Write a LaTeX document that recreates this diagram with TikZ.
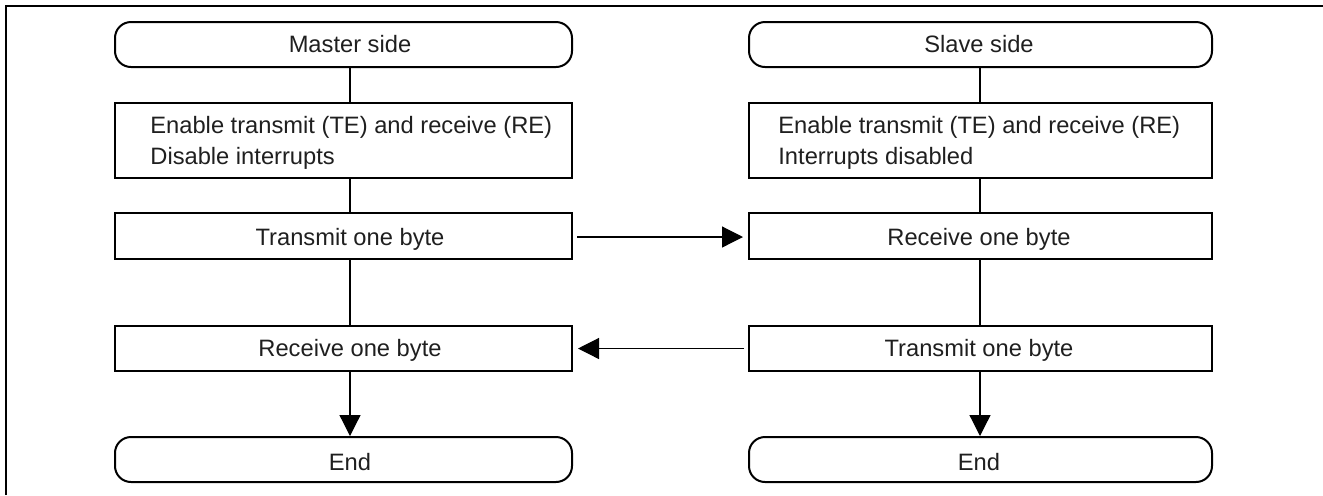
\documentclass[tikz,border=0pt]{standalone}
\usepackage{fontspec}
\setmainfont{Liberation Sans}
\usetikzlibrary{arrows.meta,calc}
\begin{document}
\begin{tikzpicture}[x=0.5pt,y=-0.5pt,
 term/.style={draw,line width=1pt,rounded corners=8pt,minimum height=22.5pt,inner sep=0pt},
 procbox/.style={draw,line width=1pt,inner sep=0pt},
 mcol/.style={minimum width=228.5pt},
 scol/.style={minimum width=231.5pt},
 lbl/.style={inner sep=0pt,font=\fontsize{11.85}{15.5}\selectfont,text=black!88},
 conn/.style={line width=0.6pt},
 arr/.style={conn,-{Triangle[length=10.5pt,width=10.5pt]}}]
\useasboundingbox (0,0) rectangle (1323,495);
\draw[line width=1.2pt] (6,495) -- (6,6) -- (1323,6);
% master column
\node[term,mcol] (m0) at (343.5,44.5) {};
\node[procbox,mcol,minimum height=37.5pt] (m1) at (343.5,140.5) {};
\node[procbox,mcol,minimum height=23pt] (m2) at (343.5,236) {};
\node[procbox,mcol,minimum height=22.5pt] (m3) at (343.5,348.5) {};
\node[term,mcol] (m4) at (343.5,459.5) {};
% slave column
\node[term,scol] (s0) at (980.5,44.5) {};
\node[procbox,scol,minimum height=37.5pt] (s1) at (980.5,140.5) {};
\node[procbox,scol,minimum height=23pt] (s2) at (980.5,236) {};
\node[procbox,scol,minimum height=22.5pt] (s3) at (980.5,348.5) {};
\node[term,scol] (s4) at (980.5,459.5) {};
% texts
\node[lbl,anchor=base] (tm0) at (350,52) {Master side};
\node[lbl,anchor=base west,align=left] (tm1) at (150,164) {Enable transmit (TE) and receive (RE)\\Disable interrupts};
\node[lbl,anchor=base] (tm2) at (350,245.5) {Transmit one byte};
\node[lbl,anchor=base] (tm3) at (350,356.5) {Receive one byte};
\node[lbl,anchor=base] (tm4) at (350,470) {End};
\node[lbl,anchor=base] (ts0) at (979,52) {Slave side};
\node[lbl,anchor=base west,align=left] (ts1) at (778,164) {Enable transmit (TE) and receive (RE)\\Interrupts disabled};
\node[lbl,anchor=base] (ts2) at (979,245.5) {Receive one byte};
\node[lbl,anchor=base] (ts3) at (979,356.5) {Transmit one byte};
\node[lbl,anchor=base] (ts4) at (979,470) {End};
% connectors
\coordinate (mx) at (350,0);
\coordinate (sx) at (980,0);
\draw[conn] (m0.south -| mx) -- (m1.north -| mx);
\draw[conn] (m1.south -| mx) -- (m2.north -| mx);
\draw[conn] (m2.south -| mx) -- (m3.north -| mx);
\draw[arr] (m3.south -| mx) -- (m4.north -| mx);
\draw[conn] (s0.south -| sx) -- (s1.north -| sx);
\draw[conn] (s1.south -| sx) -- (s2.north -| sx);
\draw[conn] (s2.south -| sx) -- (s3.north -| sx);
\draw[arr] (s3.south -| sx) -- (s4.north -| sx);
\draw[arr,shorten <=2pt,shorten >=2.5pt] ([yshift=-0.5pt]m2.east) -- ([yshift=-0.5pt]s2.west);
\draw[arr,shorten <=2pt,shorten >=2.5pt] (s3.west) -- (m3.east);
\end{tikzpicture}
\end{document}
